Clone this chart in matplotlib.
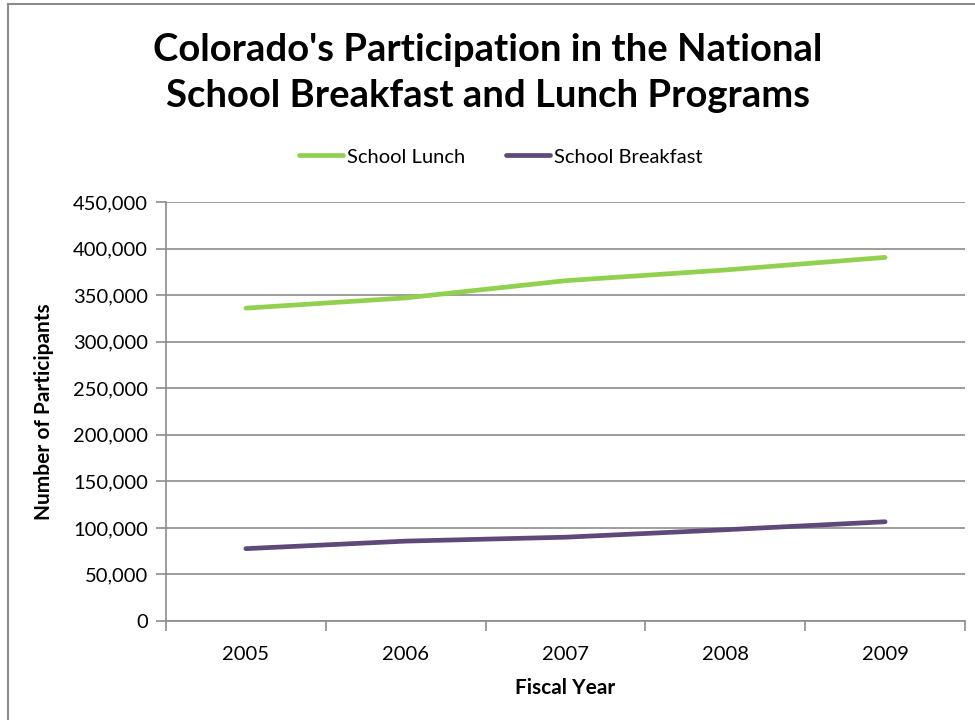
import matplotlib
matplotlib.use("Agg")
import matplotlib.pyplot as plt
from matplotlib.lines import Line2D
from matplotlib.ticker import FuncFormatter

years = ["2005", "2006", "2007", "2008", "2009"]
lunch = [336000, 347000, 365500, 377000, 390500]
breakfast = [77700, 85800, 90000, 98000, 106600]

plt.rcParams['font.family'] = ['Lato', 'DejaVu Sans']

fig = plt.figure(figsize=(9.75, 7.2), dpi=100)
ax = fig.add_axes([166 / 975, 1 - 621 / 720, (965 - 166) / 975, (621 - 202) / 720])

x = range(len(years))
ax.plot(x, lunch, color="#92D050", lw=3.4, solid_capstyle="round", label="School Lunch")
ax.plot(x, breakfast, color="#5F497A", lw=3.4, solid_capstyle="round", label="School Breakfast")

ax.set_ylim(0, 450000)
ax.set_yticks(range(0, 450001, 50000))
ax.yaxis.set_major_formatter(FuncFormatter(lambda v, p: f"{int(v):,}"))
ax.grid(axis="y", color="#8c8c8c", lw=1.2)
ax.set_axisbelow(True)

ax.set_xlim(-0.5, len(years) - 0.5)
ax.set_xticks([i - 0.5 for i in range(len(years) + 1)])
ax.set_xticklabels([])
ax.set_xticks(list(x), minor=True)
ax.set_xticklabels(years, minor=True)
ax.tick_params(axis="x", which="major", length=7, color="#8c8c8c", width=1.2)
ax.tick_params(axis="x", which="minor", length=0, pad=18, labelsize=14.5)
ax.tick_params(axis="y", length=7, color="#8c8c8c", width=1.2, labelsize=14.5, pad=6)

for s in ["top", "right"]:
    ax.spines[s].set_visible(False)
for s in ["left", "bottom"]:
    ax.spines[s].set_color("#8c8c8c")
    ax.spines[s].set_linewidth(1.2)

ax.set_xlabel("Fiscal Year", fontweight="bold", fontsize=15, labelpad=11)
ax.set_ylabel("Number of Participants", fontweight="bold", fontsize=15, labelpad=14)

fig.text(0.5, 1 - 73 / 720, "Colorado's Participation in the National\nSchool Breakfast and Lunch Programs",
         ha="center", va="center", fontsize=27.5, fontweight="bold", linespacing=1.45)

ax.legend(loc="center", bbox_to_anchor=(501 / 975, 1 - 157 / 720), bbox_transform=fig.transFigure,
          ncol=2, frameon=False, fontsize=14.5, handlelength=2.2, columnspacing=2.0, handletextpad=0.2)

# outer chart border (left and top edges visible)
fig.add_artist(Line2D([8 / 975, 8 / 975], [0, 1 - 4 / 720], transform=fig.transFigure, color="#8c8c8c", lw=1.5))
fig.add_artist(Line2D([8 / 975, 1], [1 - 4 / 720, 1 - 4 / 720], transform=fig.transFigure, color="#8c8c8c", lw=1.5))

fig.savefig("out.png", dpi=100)
